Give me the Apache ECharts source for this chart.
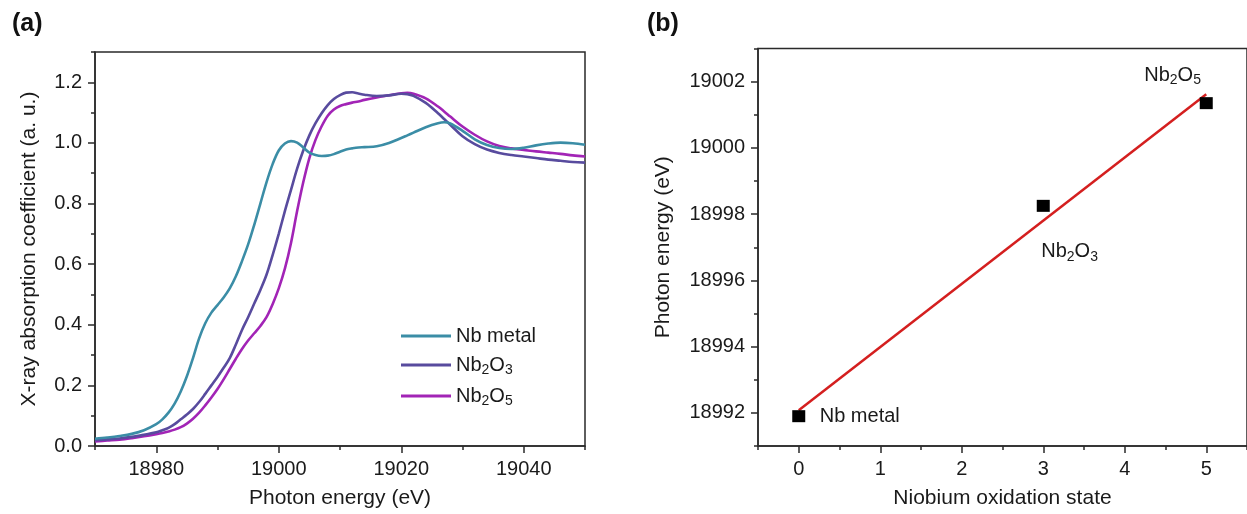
<!DOCTYPE html>
<html>
<head>
<meta charset="utf-8">
<script src="https://cdn.jsdelivr.net/npm/echarts@6/dist/echarts.min.js"></script>
<style>html,body{margin:0;padding:0;background:#fff}#c{width:1247px;height:514px}</style>
</head>
<body>
<div id="c"></div>
<script>
// ---------- Panel (a): XANES spectra ----------
const energyA = [18970,18972,18974,18976,18978,18980,18981,18982,18983,18984,18985,18986,18987,18988,18989,18990,18991,18992,18993,18994,18995,18996,18997,18998,18999,19000,19001,19002,19003,19004,19005,19006,19007,19008,19009,19010,19011,19012,19013,19014,19016,19018,19020,19021,19022,19024,19026,19027,19028,19030,19032,19034,19036,19038,19040,19042,19044,19046,19048,19050];
const nbMetal = [0.024,0.028,0.033,0.040,0.052,0.072,0.088,0.110,0.140,0.180,0.230,0.290,0.355,0.405,0.440,0.465,0.490,0.520,0.560,0.610,0.665,0.730,0.800,0.870,0.930,0.975,0.998,1.006,1.001,0.985,0.968,0.960,0.957,0.958,0.963,0.971,0.978,0.982,0.985,0.986,0.989,1.000,1.016,1.025,1.034,1.052,1.065,1.068,1.064,1.040,1.012,0.993,0.983,0.980,0.984,0.992,0.998,1.001,0.999,0.994];
const nb2o3 = [0.019,0.022,0.025,0.030,0.037,0.045,0.052,0.060,0.072,0.088,0.104,0.122,0.145,0.172,0.200,0.228,0.258,0.290,0.335,0.383,0.425,0.470,0.515,0.565,0.630,0.700,0.775,0.845,0.915,0.975,1.025,1.065,1.098,1.125,1.145,1.158,1.166,1.167,1.163,1.159,1.155,1.157,1.162,1.161,1.155,1.132,1.098,1.079,1.060,1.022,0.996,0.978,0.967,0.960,0.955,0.950,0.945,0.941,0.937,0.935];
const nb2o5 = [0.015,0.018,0.021,0.026,0.032,0.039,0.043,0.048,0.054,0.062,0.074,0.090,0.110,0.134,0.160,0.188,0.220,0.254,0.288,0.320,0.348,0.372,0.396,0.425,0.468,0.520,0.585,0.670,0.775,0.870,0.950,1.010,1.055,1.090,1.110,1.122,1.128,1.133,1.137,1.142,1.150,1.157,1.164,1.165,1.162,1.147,1.120,1.104,1.087,1.054,1.027,1.005,0.990,0.982,0.977,0.972,0.968,0.964,0.959,0.955];
const seriesNamesA = ['Nb metal','Nb2O3','Nb2O5'];
const xTicksA = [18980,19000,19020,19040];
const xMinorA = [18970,18990,19010,19030,19050];
const yTicksA = [0,0.2,0.4,0.6,0.8,1.0,1.2];
const yMinorA = [0.1,0.3,0.5,0.7,0.9,1.1,1.3];

// ---------- Panel (b): edge energy vs oxidation state ----------
const oxState = [0,3,5];
const edgeEnergy = [18991.9,18998.25,19001.35];
const pointLabels = ['Nb metal','Nb2O3','Nb2O5'];
const fitX = [0,5];
const fitY = [18992.08,19001.62];
const xTicksB = [0,1,2,3,4,5];
const xMinorB = [-0.5,0.5,1.5,2.5,3.5,4.5,5.5];
const yTicksB = [18992,18994,18996,18998,19000,19002];
const yMinorB = [18991,18993,18995,18997,18999,19001,19003];

const colors = ['#3b8da6','#584b9e','#a224b6'];
const FONT = '"Liberation Sans", Arial, sans-serif';
const txt = '#1a1a1a';
const axisCol = '#2a2a2a';

function rich(name){
  const m = name.match(/^Nb2O(\d)$/);
  if (m) return '{n|Nb}{s|2}{n|O}{s|' + m[1] + '}';
  return '{n|' + name + '}';
}
const richStyle = {
  n: {fontSize: 20, lineHeight: 24, fontFamily: FONT, color: txt, textBorderWidth: 0},
  s: {fontSize: 14, lineHeight: 14, fontFamily: FONT, color: txt, verticalAlign: 'bottom', textBorderWidth: 0}
};

function majorX(grid, min, max, ticks, fmt, name, gap){
  return {type:'value', gridIndex:grid, position:'bottom', min:min, max:max,
    axisLine:{show:true,onZero:false,lineStyle:{color:axisCol,width:1.5}},
    axisTick:{show:true,inside:false,length:7,customValues:ticks,lineStyle:{color:axisCol,width:1.5}},
    axisLabel:{show:true,customValues:ticks,margin:13,fontSize:20,fontFamily:FONT,color:txt,formatter:fmt},
    splitLine:{show:false},
    name:name, nameLocation:'middle', nameGap:gap,
    nameTextStyle:{fontSize:21,fontFamily:FONT,color:txt}};
}
function minorX(grid, min, max, ticks){
  return {type:'value', gridIndex:grid, position:'bottom', min:min, max:max,
    axisLine:{show:false,onZero:false},
    axisTick:{show:true,inside:false,length:4,customValues:ticks,lineStyle:{color:axisCol,width:1.5}},
    axisLabel:{show:false}, splitLine:{show:false}};
}
function majorY(grid, min, max, ticks, fmt, name, gap){
  return {type:'value', gridIndex:grid, position:'left', min:min, max:max,
    axisLine:{show:true,onZero:false,lineStyle:{color:axisCol,width:1.5}},
    axisTick:{show:true,inside:false,length:7,customValues:ticks,lineStyle:{color:axisCol,width:1.5}},
    axisLabel:{show:true,customValues:ticks,margin:13,fontSize:20,fontFamily:FONT,color:txt,formatter:fmt},
    splitLine:{show:false},
    name:name, nameLocation:'middle', nameGap:gap, nameRotate:90,
    nameTextStyle:{fontSize:21,fontFamily:FONT,color:txt}};
}
function minorY(grid, min, max, ticks){
  return {type:'value', gridIndex:grid, position:'left', min:min, max:max,
    axisLine:{show:false,onZero:false},
    axisTick:{show:true,inside:false,length:4,customValues:ticks,lineStyle:{color:axisCol,width:1.5}},
    axisLabel:{show:false}, splitLine:{show:false}};
}

const curves = [nbMetal, nb2o3, nb2o5];
const lineSeries = curves.map((arr, i) => ({
  name: seriesNamesA[i], type:'line', xAxisIndex:0, yAxisIndex:0,
  data: energyA.map((e, k) => [e, arr[k]]),
  showSymbol:false, symbol:'none', smooth:0.35,
  lineStyle:{width:2.6, color:colors[i]}, itemStyle:{color:colors[i]},
  z: 3 - i + 2
}));

const labelOffsets = [[21,0],[-2,46],[-62,-28]];
const scatterData = oxState.map((x, i) => ({
  value:[x, edgeEnergy[i]],
  label:{show:true, position:'inside', align:'left', verticalAlign:'middle',
    offset:labelOffsets[i], formatter: rich(pointLabels[i]), rich: richStyle,
    color: txt, textBorderWidth: 0, opacity: 1}
}));

const chart = echarts.init(document.getElementById('c'), null, {renderer:'canvas'});
chart.setOption({
  animation:false,
  backgroundColor:'#fff',
  title:[
    {text:'(a)', left:12, top:12, padding:0, textStyle:{fontSize:25,fontWeight:'bold',fontFamily:FONT,color:'#111'}},
    {text:'(b)', left:647, top:12, padding:0, textStyle:{fontSize:25,fontWeight:'bold',fontFamily:FONT,color:'#111'}}
  ],
  grid:[
    {left:95, top:52, width:490, height:396, show:true, borderColor:axisCol, borderWidth:1.5, backgroundColor:'transparent'},
    {left:758, top:48.5, width:494, height:399, show:true, borderColor:axisCol, borderWidth:1.5, backgroundColor:'transparent'}
  ],
  legend:{
    data: seriesNamesA, orient:'vertical', left:401, top:326, padding:0,
    icon:'rect', itemWidth:50, itemHeight:3, itemGap:9,
    formatter: rich, textStyle:{rich: richStyle, fontSize:20, fontFamily:FONT, color:txt},
    selectedMode:false
  },
  xAxis:[
    majorX(0, 18970, 19050, xTicksA, v => String(v), 'Photon energy (eV)', 42),
    minorX(0, 18970, 19050, xMinorA),
    majorX(1, -0.5, 5.5, xTicksB, v => String(v), 'Niobium oxidation state', 42),
    minorX(1, -0.5, 5.5, xMinorB)
  ],
  yAxis:[
    majorY(0, 0, 1.3, yTicksA, v => v.toFixed(1), 'X-ray absorption coefficient (a. u.)', 55),
    minorY(0, 0, 1.3, yMinorA),
    majorY(1, 18991, 19003, yTicksB, v => String(v), 'Photon energy (eV)', 84),
    minorY(1, 18991, 19003, yMinorB)
  ],
  series: lineSeries.concat([
    {name:'fit', type:'line', xAxisIndex:2, yAxisIndex:2,
      data: fitX.map((x,i)=>[x, fitY[i]]), showSymbol:false, symbol:'none',
      lineStyle:{width:2.5, color:'#d41f1f'}, z:2},
    {name:'edge', type:'scatter', xAxisIndex:2, yAxisIndex:2,
      data: scatterData, symbol:'rect', symbolSize:[13,12],
      itemStyle:{color:'#000', opacity:1}, z:5}
  ])
});
</script>
</body>
</html>
